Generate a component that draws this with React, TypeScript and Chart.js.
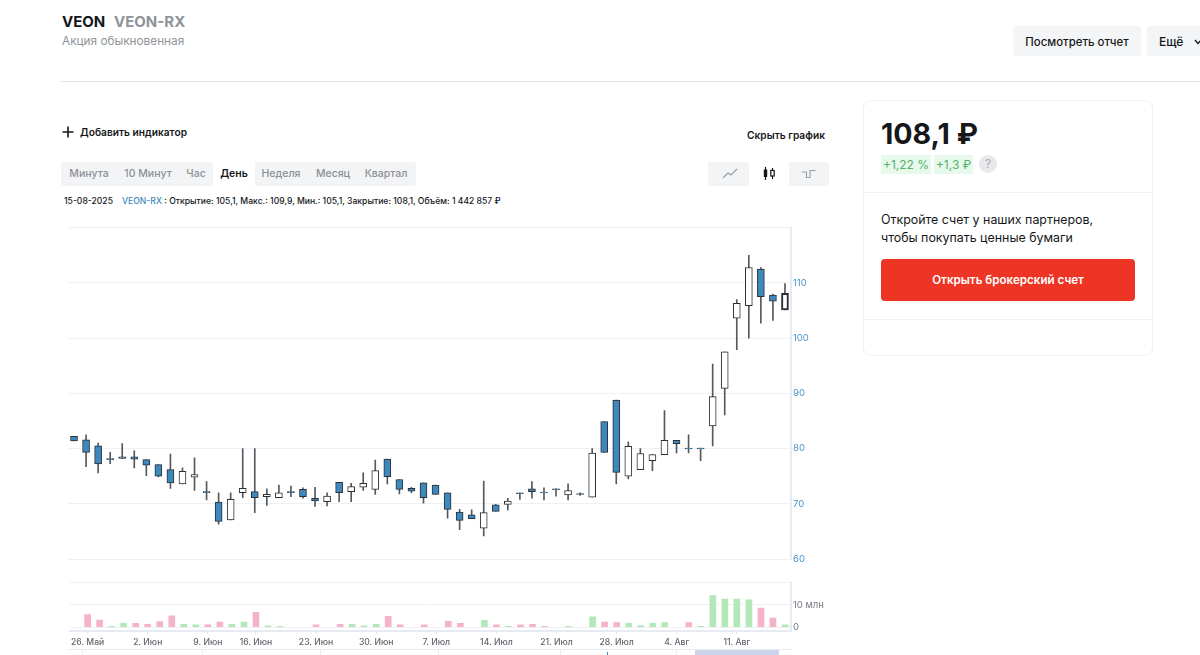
import React, { useEffect, useRef } from "react";
import { Chart, registerables } from "chart.js";

Chart.register(...registerables);

const categories = [
  "23. Май", "26. Май", "27. Май", "28. Май", "29. Май", "30. Май",
  "2. Июн", "3. Июн", "4. Июн", "5. Июн", "6. Июн",
  "9. Июн", "10. Июн", "11. Июн", "12. Июн",
  "16. Июн", "17. Июн", "18. Июн", "19. Июн", "20. Июн",
  "23. Июн", "24. Июн", "25. Июн", "26. Июн", "27. Июн",
  "30. Июн", "1. Июл", "2. Июл", "3. Июл", "4. Июл",
  "7. Июл", "8. Июл", "9. Июл", "10. Июл", "11. Июл",
  "14. Июл", "15. Июл", "16. Июл", "17. Июл", "18. Июл",
  "21. Июл", "22. Июл", "23. Июл", "24. Июл", "25. Июл",
  "28. Июл", "29. Июл", "30. Июл", "31. Июл", "1. Авг",
  "4. Авг", "5. Авг", "6. Авг", "7. Авг", "8. Авг",
  "11. Авг", "12. Авг", "13. Авг", "14. Авг", "15. Авг",
];
const shownDates = ["26. Май", "2. Июн", "9. Июн", "16. Июн", "23. Июн", "30. Июн", "7. Июл", "14. Июл", "21. Июл", "28. Июл", "4. Авг", "11. Авг"];

const opens = [
  82.2, 81.6, 80.5, 78.2, 78.5, 78.5, 78, 77.1, 76.2, 73.6,
  74.8, 72.2, 70.3, 67.1, 72, 72.2, 71.3, 71.1, 72.2, 72.6,
  71, 70.4, 73.9, 72.2, 73, 72.6, 78.1, 74.4, 72.8, 73.8,
  73.4, 72, 68.5, 68, 65.6, 69.8, 69.9, 72, 72.7, 72.1,
  72.7, 71.6, 71.85, 71.2, 84.9, 88.8, 75, 76.2, 77.8, 78.9,
  81.5, 80.1, 80.1, 84.1, 90.9, 103.6, 105.9, 112.5, 107.8, 105.1,
];
const closes = [
  81.4, 79.3, 77.2, 78, 78.2, 78.1, 77, 75, 73.8, 75.9,
  75.3, 72, 66.8, 70.8, 72.8, 71.1, 71.7, 72, 72, 71.3,
  70.5, 71.4, 72, 73.1, 73.7, 76, 74.9, 72.6, 72.3, 71.1,
  71.7, 69, 67, 67.3, 68.4, 68.6, 70.5, 71.85, 72.2, 71.95,
  72.55, 72.4, 71.7, 79.2, 79.3, 75.7, 80.4, 79.1, 78.9, 81.5,
  80.9, 79.95, 79.95, 89.4, 97.5, 106.3, 112.8, 107.5, 106.7, 108.1,
];
const highs = [
  82.2, 82.5, 81, 79.3, 80.9, 79.6, 78, 77.1, 79, 76.5,
  78.3, 74, 72, 72, 80, 80, 72.7, 73.4, 73.2, 72.9,
  73, 72, 73.9, 73.7, 75.6, 77.9, 78.1, 74.4, 73, 73.8,
  73.4, 72, 69, 68.9, 74.1, 69.9, 71, 72, 74, 72.9,
  72.7, 73.6, 72, 80, 84.9, 88.8, 81.2, 80, 78.9, 86.9,
  81.5, 82.5, 80.1, 95.3, 97.5, 107, 115, 112.8, 108, 109.9,
];
const lows = [
  81.4, 76.7, 75.6, 77.25, 78.2, 76.5, 75.1, 74.85, 72.8, 73.6,
  72.4, 70.7, 66.3, 67.1, 71.1, 68.4, 69.7, 71.1, 71.3, 71,
  69.5, 69.6, 70.4, 70.4, 72.4, 71.7, 73.6, 71.8, 72, 70.1,
  71.7, 67.4, 65.3, 67.3, 64.2, 68.6, 68.9, 70.8, 71, 70.7,
  71.4, 70.7, 71.5, 71.2, 79.3, 73.6, 74.5, 76.2, 76, 78.9,
  79.2, 79.2, 77.8, 80.5, 86.1, 97.9, 100, 102.7, 103.2, 105.1,
];

// Volume in millions, split by bar colour
const volumeUp = [
  null, null, null, 0.4, 1.7, null, null, null, null, 1.3,
  1.0, null, null, 1.3, 2.3, null, 0.6, 0.3, null, null,
  null, null, null, 1.3, 0.6, 1.3, null, null, null, null,
  null, null, null, null, 3.0, null, 0.3, null, null, null,
  null, 0.4, null, 4.6, null, null, 1.7, 0.7, 1.7, 2.0,
  null, null, 0.4, 14.2, 12.6, 12.6, 12.3, null, null, 1.0,
];
const volumeDown = [
  null, 5.6, 3.2, null, null, 1.7, 1.3, 2.5, 5.1, null,
  null, 1.0, 2.3, null, null, 6.7, null, null, null, null,
  1.0, null, 1.3, null, null, null, 4.8, 1.0, null, 1.0,
  null, 2.6, 1.7, null, null, 1.0, null, 1.0, 1.3, 0.4,
  null, null, null, null, 2.3, 2.0, null, null, null, null,
  null, 2.0, null, null, null, null, null, 8.6, 4.1, null,
];

const priceTicks = [60, 70, 80, 90, 100, 110, 120];
const hiddenPriceTick = 120;
const volumeTicks = [0, 10, 20];
const hiddenVolumeTick = 20;

const periods = ["Минута", "10 Минут", "Час", "День", "Неделя", "Месяц", "Квартал"];

const FONT = "Inter, 'Noto Sans', sans-serif";
const GRID = "#eef0f3";
const AXIS = "#e6eaf2";
const BLUE = "#3d88bd";

function PriceChart() {
  const ref = useRef<HTMLCanvasElement>(null);
  useEffect(() => {
    const chart = new Chart(ref.current!, {
      type: "bar",
      data: {
        labels: categories,
        datasets: [
          {
            data: closes.map((c, i) => [opens[i], c]) as any,
            order: 1,
            grouped: false,
            barThickness: 7,
            borderSkipped: false,
            borderColor: "#2b2f33",
            borderWidth: (ctx: any) => (ctx.dataIndex === categories.length - 1 ? 2 : 1),
            backgroundColor: (ctx: any) =>
              closes[ctx.dataIndex] >= opens[ctx.dataIndex] ? "#ffffff" : BLUE,
          } as any,
          {
            data: highs.map((h, i) => [lows[i], h]) as any,
            order: 2,
            grouped: false,
            barThickness: 1,
            borderWidth: 0,
            backgroundColor: "#55595e",
          } as any,
        ],
      },
      options: {
        responsive: false,
        animation: false,
        layout: { autoPadding: false, padding: { top: 6, bottom: 11 } },
        plugins: { legend: { display: false }, tooltip: { enabled: false } },
        scales: {
          x: { display: false, offset: true },
          y: {
            position: "right",
            min: 60,
            max: 120,
            afterBuildTicks: (s: any) => {
              s.ticks = priceTicks.map((value) => ({ value }));
            },
            afterFit: (s: any) => {
              s.width = 39;
            },
            grid: { color: GRID, drawTicks: false },
            border: { color: AXIS, width: 2 },
            ticks: {
              padding: 2,
              color: "#4a92c6",
              font: { family: FONT, size: 9.5 },
              callback: (v: any) => (v === hiddenPriceTick ? "" : String(v)),
            },
          },
        },
      } as any,
    });
    return () => chart.destroy();
  }, []);
  return (
    <canvas
      ref={ref}
      width={762}
      height={350}
      style={{ position: "absolute", left: 68, top: 220, width: 762, height: 350 }}
    />
  );
}

function VolumeChart() {
  const ref = useRef<HTMLCanvasElement>(null);
  useEffect(() => {
    const chart = new Chart(ref.current!, {
      type: "bar",
      data: {
        labels: categories,
        datasets: [
          { data: volumeUp, grouped: false, barThickness: 6, borderWidth: 0, backgroundColor: "#b2e8b8" } as any,
          { data: volumeDown, grouped: false, barThickness: 6, borderWidth: 0, backgroundColor: "#f4b3c8" } as any,
        ],
      },
      options: {
        responsive: false,
        animation: false,
        layout: { autoPadding: false, padding: { top: 6 } },
        plugins: { legend: { display: false }, tooltip: { enabled: false } },
        scales: {
          x: {
            offset: true,
            afterBuildTicks: (s: any) => {
              s.ticks = s.ticks.filter((t: any) => shownDates.includes(categories[t.value]));
            },
            afterFit: (s: any) => {
              s.height = 19;
            },
            grid: { offset: false, drawOnChartArea: false, tickLength: 3, color: "#dfe3ea" },
            border: { color: AXIS, width: 2 },
            ticks: {
              autoSkip: false,
              maxRotation: 0,
              padding: 3,
              color: "#62676e",
              font: { family: FONT, size: 8.6, weight: 500 },
            },
          },
          y: {
            position: "right",
            min: -1.75,
            max: 20,
            afterBuildTicks: (s: any) => {
              s.ticks = volumeTicks.map((value) => ({ value }));
            },
            afterFit: (s: any) => {
              s.width = 39;
            },
            grid: { color: GRID, drawTicks: false },
            border: { color: AXIS, width: 2 },
            ticks: {
              padding: 2,
              color: "#777c83",
              font: { family: FONT, size: 9.5 },
              callback: (v: any) => (v === hiddenVolumeTick ? "" : v === 0 ? "0" : `${v} млн`),
            },
          },
        },
      } as any,
    });
    return () => chart.destroy();
  }, []);
  return (
    <canvas
      ref={ref}
      width={762}
      height={75}
      style={{ position: "absolute", left: 68, top: 575, width: 762, height: 75 }}
    />
  );
}

const abs = (left: number, top: number, extra: React.CSSProperties = {}): React.CSSProperties => ({
  position: "absolute",
  left,
  top,
  whiteSpace: "nowrap",
  ...extra,
});

const tabPositions = [89, 148, 196, 234, 281, 333, 386];
const navTicks = [82, 202, 320, 438, 560, 676];

export default function App() {
  return (
    <div
      style={{
        position: "fixed",
        left: 0,
        top: 0,
        width: 1200,
        height: 655,
        overflow: "hidden",
        background: "#fff",
        fontFamily: FONT,
        color: "#15171a",
      }}
    >
      <div style={abs(62, 12, { fontSize: 15, fontWeight: 700, lineHeight: "20px" })}>VEON</div>
      <div style={abs(114, 12, { fontSize: 15, fontWeight: 700, lineHeight: "20px", color: "#8f9499" })}>VEON-RX</div>
      <div style={abs(62, 33, { fontSize: 11.8, lineHeight: "16px", color: "#8f9499" })}>Акция обыкновенная</div>

      <div style={abs(1013, 26, { width: 128, height: 30, background: "#f4f5f6", borderRadius: 4, fontSize: 11.4, fontWeight: 500, lineHeight: "33px", textAlign: "center" })}>Посмотреть отчет</div>
      <div style={abs(1147, 26, { width: 70, height: 30, background: "#f4f5f6", borderRadius: 4, fontSize: 12, fontWeight: 500, lineHeight: "31px", paddingLeft: 12, boxSizing: "border-box" })}>Ещё</div>
      <svg style={abs(1194, 38)} width="8" height="8" viewBox="0 0 8 8"><path d="M1 2 L4 5.5 L7 2" fill="none" stroke="#15171a" strokeWidth="1.3" /></svg>
      <div style={abs(60, 81, { width: 1140, height: 1, background: "#e4e6e8" })} />

      <svg style={abs(62, 126)} width="12" height="12" viewBox="0 0 12 12"><path d="M6 0.5 V11.5 M0.5 6 H11.5" stroke="#15171a" strokeWidth="1.6" /></svg>
      <div style={abs(80, 125, { fontSize: 10.2, fontWeight: 600, lineHeight: "14px" })}>Добавить индикатор</div>
      <div style={abs(747, 127.5, { fontSize: 10.2, fontWeight: 600, lineHeight: "14px" })}>Скрыть график</div>

      <div style={abs(61, 162, { width: 355, height: 24, background: "#f3f4f6", borderRadius: 3 })} />
      <div style={abs(213, 162, { width: 42, height: 24, background: "#fff" })} />
      {periods.map((p, i) => (
        <div
          key={p}
          style={abs(tabPositions[i], 162, {
            transform: "translateX(-50%)",
            fontSize: 10.5,
            lineHeight: "24px",
            fontWeight: p === "День" ? 600 : 500,
            color: p === "День" ? "#15171a" : "#8b9097",
          })}
        >
          {p}
        </div>
      ))}

      <div style={abs(708, 162, { width: 121, height: 24, background: "#f3f4f6", borderRadius: 3 })} />
      <div style={abs(749, 162, { width: 40, height: 24, background: "#fff" })} />
      <svg style={abs(722, 167)} width="16" height="13" viewBox="0 0 16 13"><path d="M1 11 L6 6 L9 8 L15 2" fill="none" stroke="#9a9ea4" strokeWidth="1.1" /></svg>
      <svg style={abs(762, 166)} width="14" height="15" viewBox="0 0 14 15">
        <path d="M3.5 1 V14 M10.5 2 V13" stroke="#15171a" strokeWidth="1.2" />
        <rect x="1.8" y="3.5" width="3.4" height="7.5" fill="#15171a" />
        <rect x="8.8" y="4.5" width="3.4" height="5.5" fill="#fff" stroke="#15171a" strokeWidth="1.2" />
      </svg>
      <svg style={abs(801, 167)} width="15" height="13" viewBox="0 0 15 13"><path d="M0.5 5 H5.5 V10.5 H9 V3.5 H14.5" fill="none" stroke="#9a9ea4" strokeWidth="1.1" /></svg>

      <div style={abs(64, 195, { fontSize: 8.6, fontWeight: 500, lineHeight: "13px" })}>15-08-2025</div>
      <div style={abs(122, 195, { fontSize: 8.6, fontWeight: 500, lineHeight: "13px" })}>
        <span style={{ color: BLUE }}>VEON-RX</span>
        <span> : Открытие: 105,1, Макс.: 109,9, Мин.: 105,1, Закрытие: 108,1, Объём: 1 442 857 ₽</span>
      </div>

      <PriceChart />
      <VolumeChart />

      <div style={abs(68, 649, { width: 723, height: 1, background: "#e8ebef" })} />
      {navTicks.map((x) => (
        <div key={x} style={abs(x, 650, { width: 1, height: 5, background: "#e8ebef" })} />
      ))}
      <div style={abs(607, 652, { width: 1, height: 3, background: BLUE })} />
      <div style={abs(695, 650, { width: 84, height: 5, background: "#ccd5ea" })} />

      <div style={abs(863, 100, { width: 290, height: 256, boxSizing: "border-box", border: "1px solid #f0f1f3", borderRadius: 8 })} />
      <div style={abs(881, 116, { fontSize: 28.6, fontWeight: 700, lineHeight: "36px" })}>108,1 ₽</div>
      <div style={abs(881, 155, { width: 50, height: 19, background: "#e6f9ea", color: "#55b06c", fontSize: 12, lineHeight: "19px", textAlign: "center" })}>+1,22 %</div>
      <div style={abs(934, 155, { width: 39, height: 19, background: "#e6f9ea", color: "#55b06c", fontSize: 12, lineHeight: "19px", textAlign: "center" })}>+1,3 ₽</div>
      <div style={abs(979, 155, { width: 18, height: 18, borderRadius: 9, background: "#e8e9ec", color: "#a8acb2", fontSize: 12, lineHeight: "18px", textAlign: "center" })}>?</div>
      <div style={abs(863, 192, { width: 290, height: 1, background: "#f0f1f3" })} />
      <div style={abs(881, 211, { fontSize: 12.4, lineHeight: "18px" })}>Откройте счет у наших партнеров,<br />чтобы покупать ценные бумаги</div>
      <div style={abs(881, 259, { width: 254, height: 42, background: "#ee3424", borderRadius: 4, color: "#fff", fontSize: 11.6, fontWeight: 600, lineHeight: "42px", textAlign: "center" })}>Открыть брокерский счет</div>
      <div style={abs(863, 319, { width: 290, height: 1, background: "#f0f1f3" })} />
    </div>
  );
}
